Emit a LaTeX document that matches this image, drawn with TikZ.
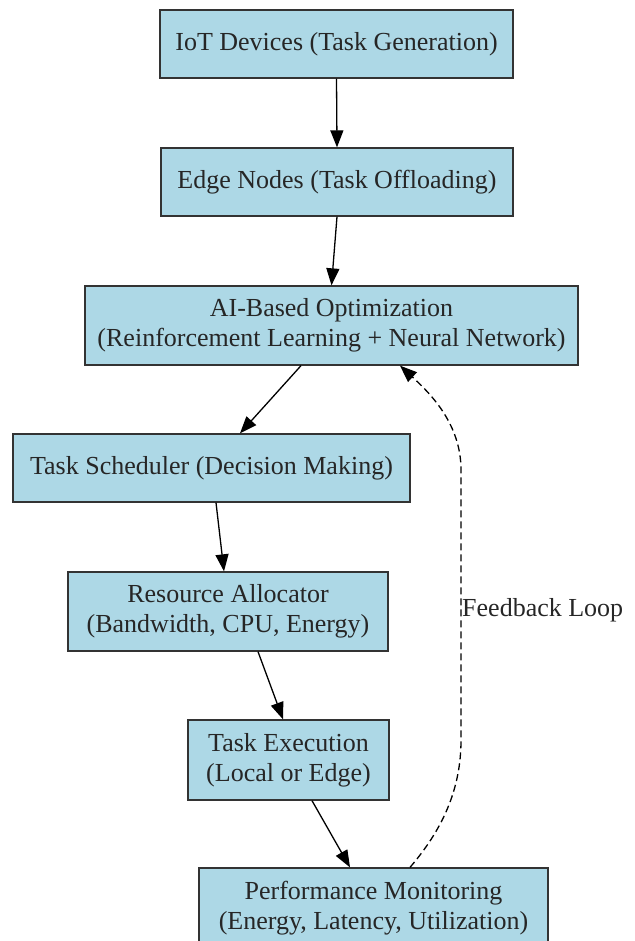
\documentclass[tikz,border=0pt]{standalone}
\usepackage{fontspec}
\setmainfont{Liberation Serif}
\usetikzlibrary{arrows.meta}
\definecolor{boxfill}{HTML}{ADD8E6}
\definecolor{boxline}{HTML}{333333}
\begin{document}
\begin{tikzpicture}[x=1pt,y=-1pt,
  txt/.style={font=\fontsize{26}{30}\selectfont, text=black!85},
  box/.style={txt, draw=boxline, line width=1.3pt, fill=boxfill, inner sep=0pt, align=center},
  arr/.style={-{Triangle[length=17pt,width=13pt]}, line width=1.3pt, black},
  fb/.style={arr, dash pattern=on 7pt off 4pt}]
\useasboundingbox (0,0) rectangle (634,941);
\node[box, minimum width=353, minimum height=68] (iot) at (336.5,44) {IoT Devices (Task Generation)};
\node[box, minimum width=352, minimum height=68] (edge) at (337,182) {Edge Nodes (Task Offloading)};
\node[box, minimum width=493, minimum height=79] (ai) at (331.5,325.5) {AI-Based Optimization\\(Reinforcement Learning + Neural Network)};
\node[box, minimum width=397, minimum height=68] (sched) at (211.5,468) {Task Scheduler (Decision Making)};
\node[box, minimum width=320, minimum height=79] (alloc) at (228,611.5) {Resource Allocator\\(Bandwidth, CPU, Energy)};
\node[box, minimum width=201, minimum height=80] (exec) at (288.5,760) {Task Execution\\(Local or Edge)};
\node[box, minimum width=349, minimum height=80] (perf) at (373.5,908) {Performance Monitoring\\(Energy, Latency, Utilization)};
\draw[arr] (iot.south) -- (edge.north);
\draw[arr] (edge.south) -- (ai.north);
\draw[arr] ([xshift=-30.5pt]ai.south) -- ([xshift=28.5pt]sched.north);
\draw[arr] ([xshift=4.5pt]sched.south) -- ([xshift=-4pt]alloc.north);
\draw[arr] ([xshift=30pt]alloc.south) -- ([xshift=-5.5pt]exec.north);
\draw[arr] ([xshift=23.5pt]exec.south) -- ([xshift=-23.5pt]perf.north);
\draw[fb] ([xshift=36.5pt]perf.north) .. controls (442,830) and (461,790) .. (461,740)
  -- (461,470) .. controls (461,425) and (432,395) .. ([xshift=68.5pt]ai.south);
\node[txt, anchor=west, inner sep=0pt] (fblabel) at (462,610) {Feedback Loop};
\end{tikzpicture}
\end{document}
